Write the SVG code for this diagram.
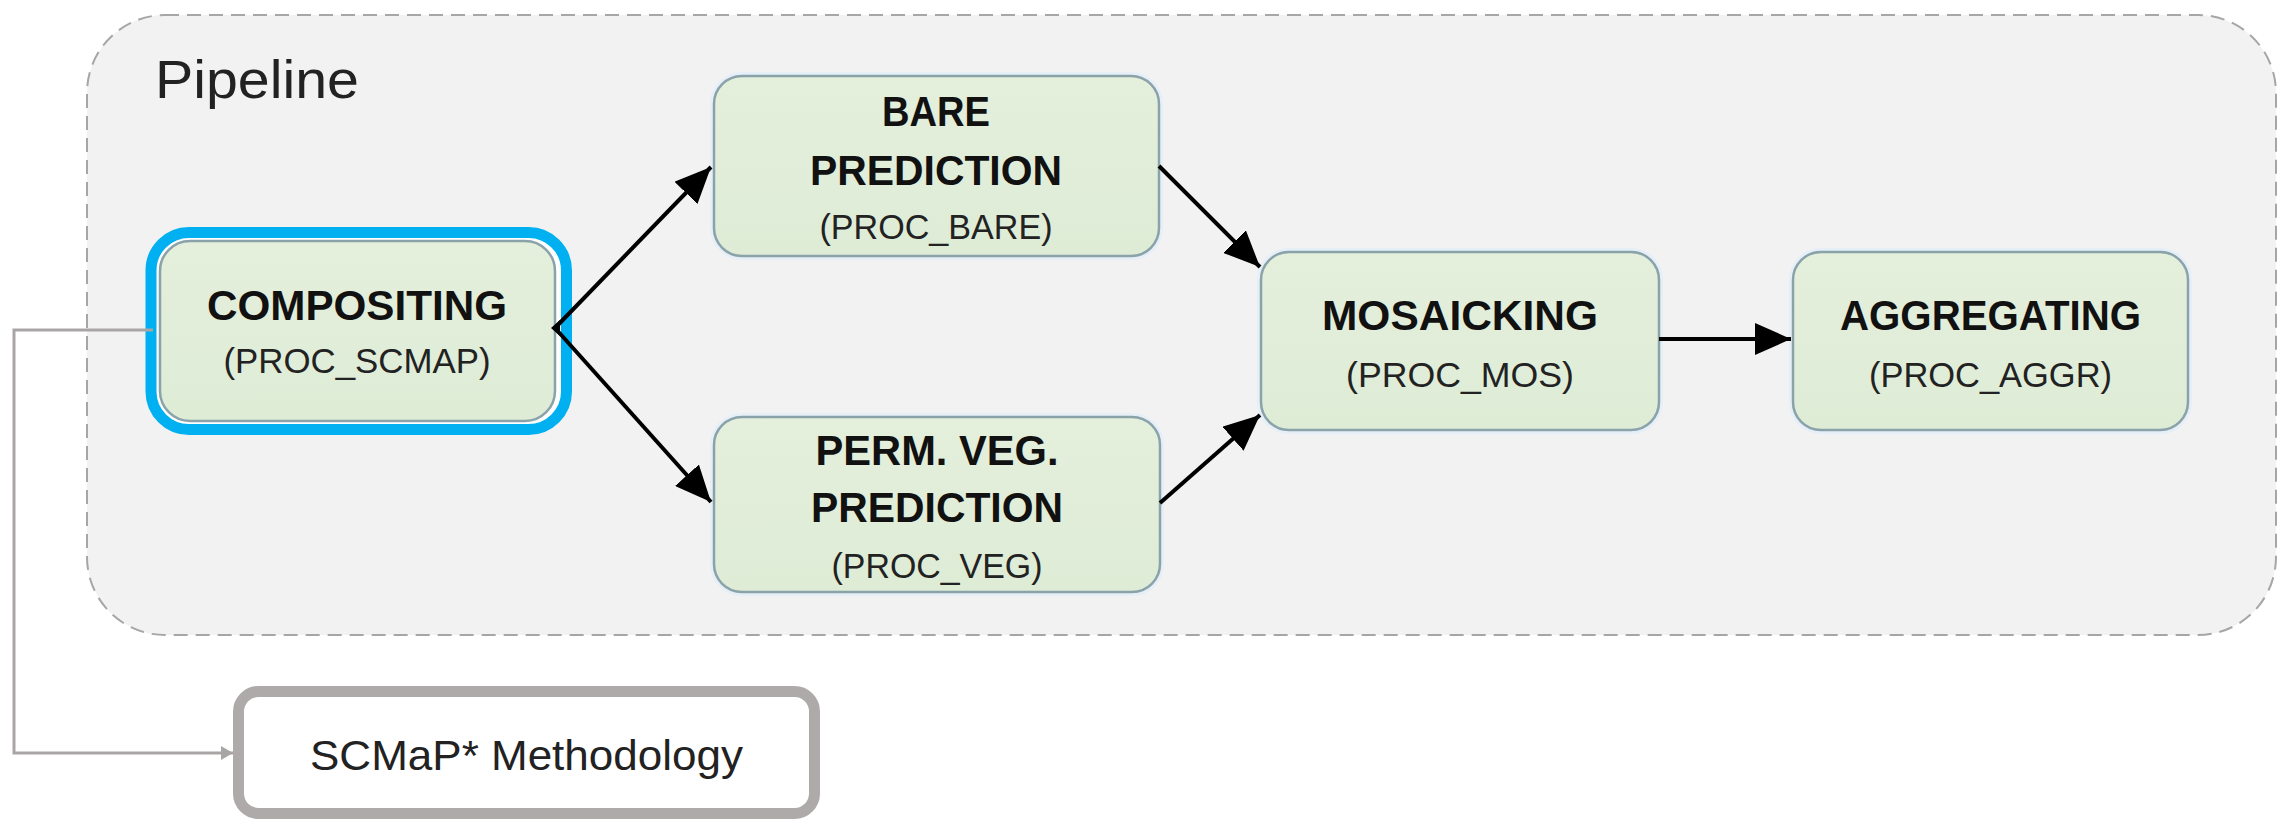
<svg xmlns="http://www.w3.org/2000/svg" width="2280" height="820" viewBox="0 0 2280 820">
  <defs>
    <marker id="ah" viewBox="0 0 36 32" refX="36" refY="16" markerWidth="36" markerHeight="32" markerUnits="userSpaceOnUse" orient="auto">
      <path d="M0,0 L36,16 L0,32 z" fill="#000"/>
    </marker>
    <marker id="ahg" viewBox="0 0 12 14" refX="12" refY="7" markerWidth="12" markerHeight="14" markerUnits="userSpaceOnUse" orient="auto">
      <path d="M0,0 L12,7 L0,14 z" fill="#a9a5a5"/>
    </marker>
    <linearGradient id="gf" x1="0" y1="0" x2="0" y2="1">
      <stop offset="0" stop-color="#e4efdc"/>
      <stop offset="1" stop-color="#deecd6"/>
    </linearGradient>
  </defs>
  <style>
    .halo { fill: none; stroke: #e6eff7; stroke-width: 8; }
    .box { fill: url(#gf); stroke: #8aa2aa; stroke-width: 2.5; }
    .t1 { font-family: "Liberation Sans", Arial, sans-serif; font-weight: bold; font-size: 43px; fill: #111; text-anchor: middle; }
    .t2 { font-family: "Liberation Sans", Arial, sans-serif; font-size: 35px; fill: #222; text-anchor: middle; }
    .conn { stroke: #000; stroke-width: 4; fill: none; marker-end: url(#ah); }
  </style>
  <rect width="2280" height="820" fill="#ffffff"/>

  <g id="pipeline">
    <rect x="87" y="15" width="2189" height="620" rx="78" fill="#f2f2f2" stroke="#a6a6a6" stroke-width="2" stroke-dasharray="14 8"/>
    <text x="155" y="98" font-family="Liberation Sans, Arial, sans-serif" font-size="54" fill="#222" textLength="204" lengthAdjust="spacingAndGlyphs">Pipeline</text>
  </g>

  <g id="compositing">
    <rect x="151" y="232.5" width="415.5" height="197" rx="38" fill="#ffffff" stroke="#00b0f0" stroke-width="11"/>
    <rect x="160" y="241" width="395" height="180" rx="30" class="box" stroke="#8e9ea6"/>
    <text x="357" y="320" class="t1" textLength="300" lengthAdjust="spacingAndGlyphs">COMPOSITING</text>
    <text x="357" y="373" class="t2" textLength="267" lengthAdjust="spacingAndGlyphs">(PROC_SCMAP)</text>
  </g>

  <g id="bare">
    <rect x="714" y="76" width="445" height="180" rx="28" class="halo"/>
    <rect x="714" y="76" width="445" height="180" rx="28" class="box"/>
    <text x="936" y="126" class="t1" textLength="108" lengthAdjust="spacingAndGlyphs">BARE</text>
    <text x="936" y="185" class="t1" textLength="252" lengthAdjust="spacingAndGlyphs">PREDICTION</text>
    <text x="936" y="239" class="t2" textLength="233" lengthAdjust="spacingAndGlyphs">(PROC_BARE)</text>
  </g>

  <g id="permveg">
    <rect x="714" y="417" width="446" height="175" rx="28" class="halo"/>
    <rect x="714" y="417" width="446" height="175" rx="28" class="box"/>
    <text x="937" y="465" class="t1" textLength="243" lengthAdjust="spacingAndGlyphs">PERM. VEG.</text>
    <text x="937" y="522" class="t1" textLength="252" lengthAdjust="spacingAndGlyphs">PREDICTION</text>
    <text x="937" y="578" class="t2" textLength="211" lengthAdjust="spacingAndGlyphs">(PROC_VEG)</text>
  </g>

  <g id="mosaicking">
    <rect x="1261" y="252" width="398" height="178" rx="28" class="halo"/>
    <rect x="1261" y="252" width="398" height="178" rx="28" class="box"/>
    <text x="1460" y="330" class="t1" textLength="276" lengthAdjust="spacingAndGlyphs">MOSAICKING</text>
    <text x="1460" y="387" class="t2" textLength="228" lengthAdjust="spacingAndGlyphs">(PROC_MOS)</text>
  </g>

  <g id="aggregating">
    <rect x="1793" y="252" width="395" height="178" rx="28" class="halo"/>
    <rect x="1793" y="252" width="395" height="178" rx="28" class="box"/>
    <text x="1990.5" y="330" class="t1" textLength="301" lengthAdjust="spacingAndGlyphs">AGGREGATING</text>
    <text x="1990.5" y="387" class="t2" textLength="243" lengthAdjust="spacingAndGlyphs">(PROC_AGGR)</text>
  </g>

  <g id="scmap">
    <rect x="238.5" y="691.5" width="576" height="122" rx="20" fill="#ffffff" stroke="#aeaaaa" stroke-width="11"/>
    <text x="526.5" y="770" font-family="Liberation Sans, Arial, sans-serif" font-size="43" fill="#222" text-anchor="middle" textLength="433" lengthAdjust="spacingAndGlyphs">SCMaP* Methodology</text>
  </g>

  <g id="connectors">
    <path class="conn" d="M555,328 L711,167"/>
    <path class="conn" d="M555,328 L711,502"/>
    <path d="M551,328 L560,320 L560,336 z" fill="#000"/>
    <path class="conn" d="M1159,166 L1260,267"/>
    <path class="conn" d="M1160,503 L1260,415"/>
    <path class="conn" d="M1659,339 L1791,339"/>
    <path d="M153,330 H14 V753 H233" fill="none" stroke="#a9a5a5" stroke-width="3" marker-end="url(#ahg)"/>
  </g>
</svg>
